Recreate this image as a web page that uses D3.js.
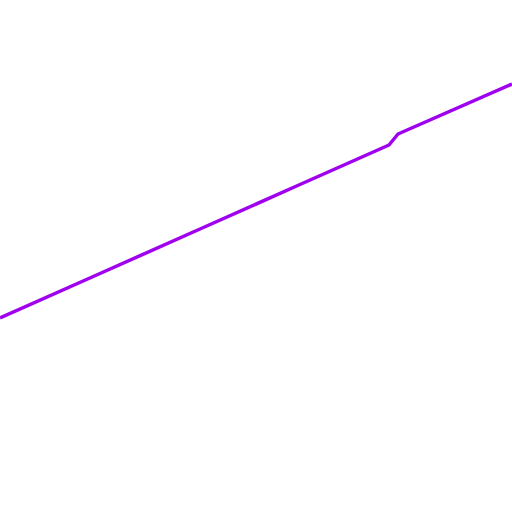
<!DOCTYPE html>
<html><head><meta charset="utf-8">
<script src="https://cdn.jsdelivr.net/npm/d3@7"></script>
<style>html,body{margin:0;padding:0;background:#fff;}svg{display:block;}</style>
</head><body>
<svg id="chart" width="512" height="512"></svg>
<script>
const xValues = [0, 100, 200, 300, 389, 398, 512];
const yValues = [194, 238.5, 283, 327.5, 367, 378, 428];

const width = 512, height = 512;
const svg = d3.select("#chart");
const x = d3.scaleLinear().domain([0, 512]).range([0, width]);
const y = d3.scaleLinear().domain([0, 512]).range([height, 0]);
const data = xValues.map((v, i) => ({x: v, y: yValues[i]}));
const line = d3.line().x(d => x(d.x)).y(d => y(d.y));
svg.append("path").datum(data)
  .attr("d", line)
  .attr("fill", "none")
  .attr("stroke", "#a000f0")
  .attr("stroke-width", 3.5)
  .attr("stroke-linejoin", "round");
</script>
</body></html>
